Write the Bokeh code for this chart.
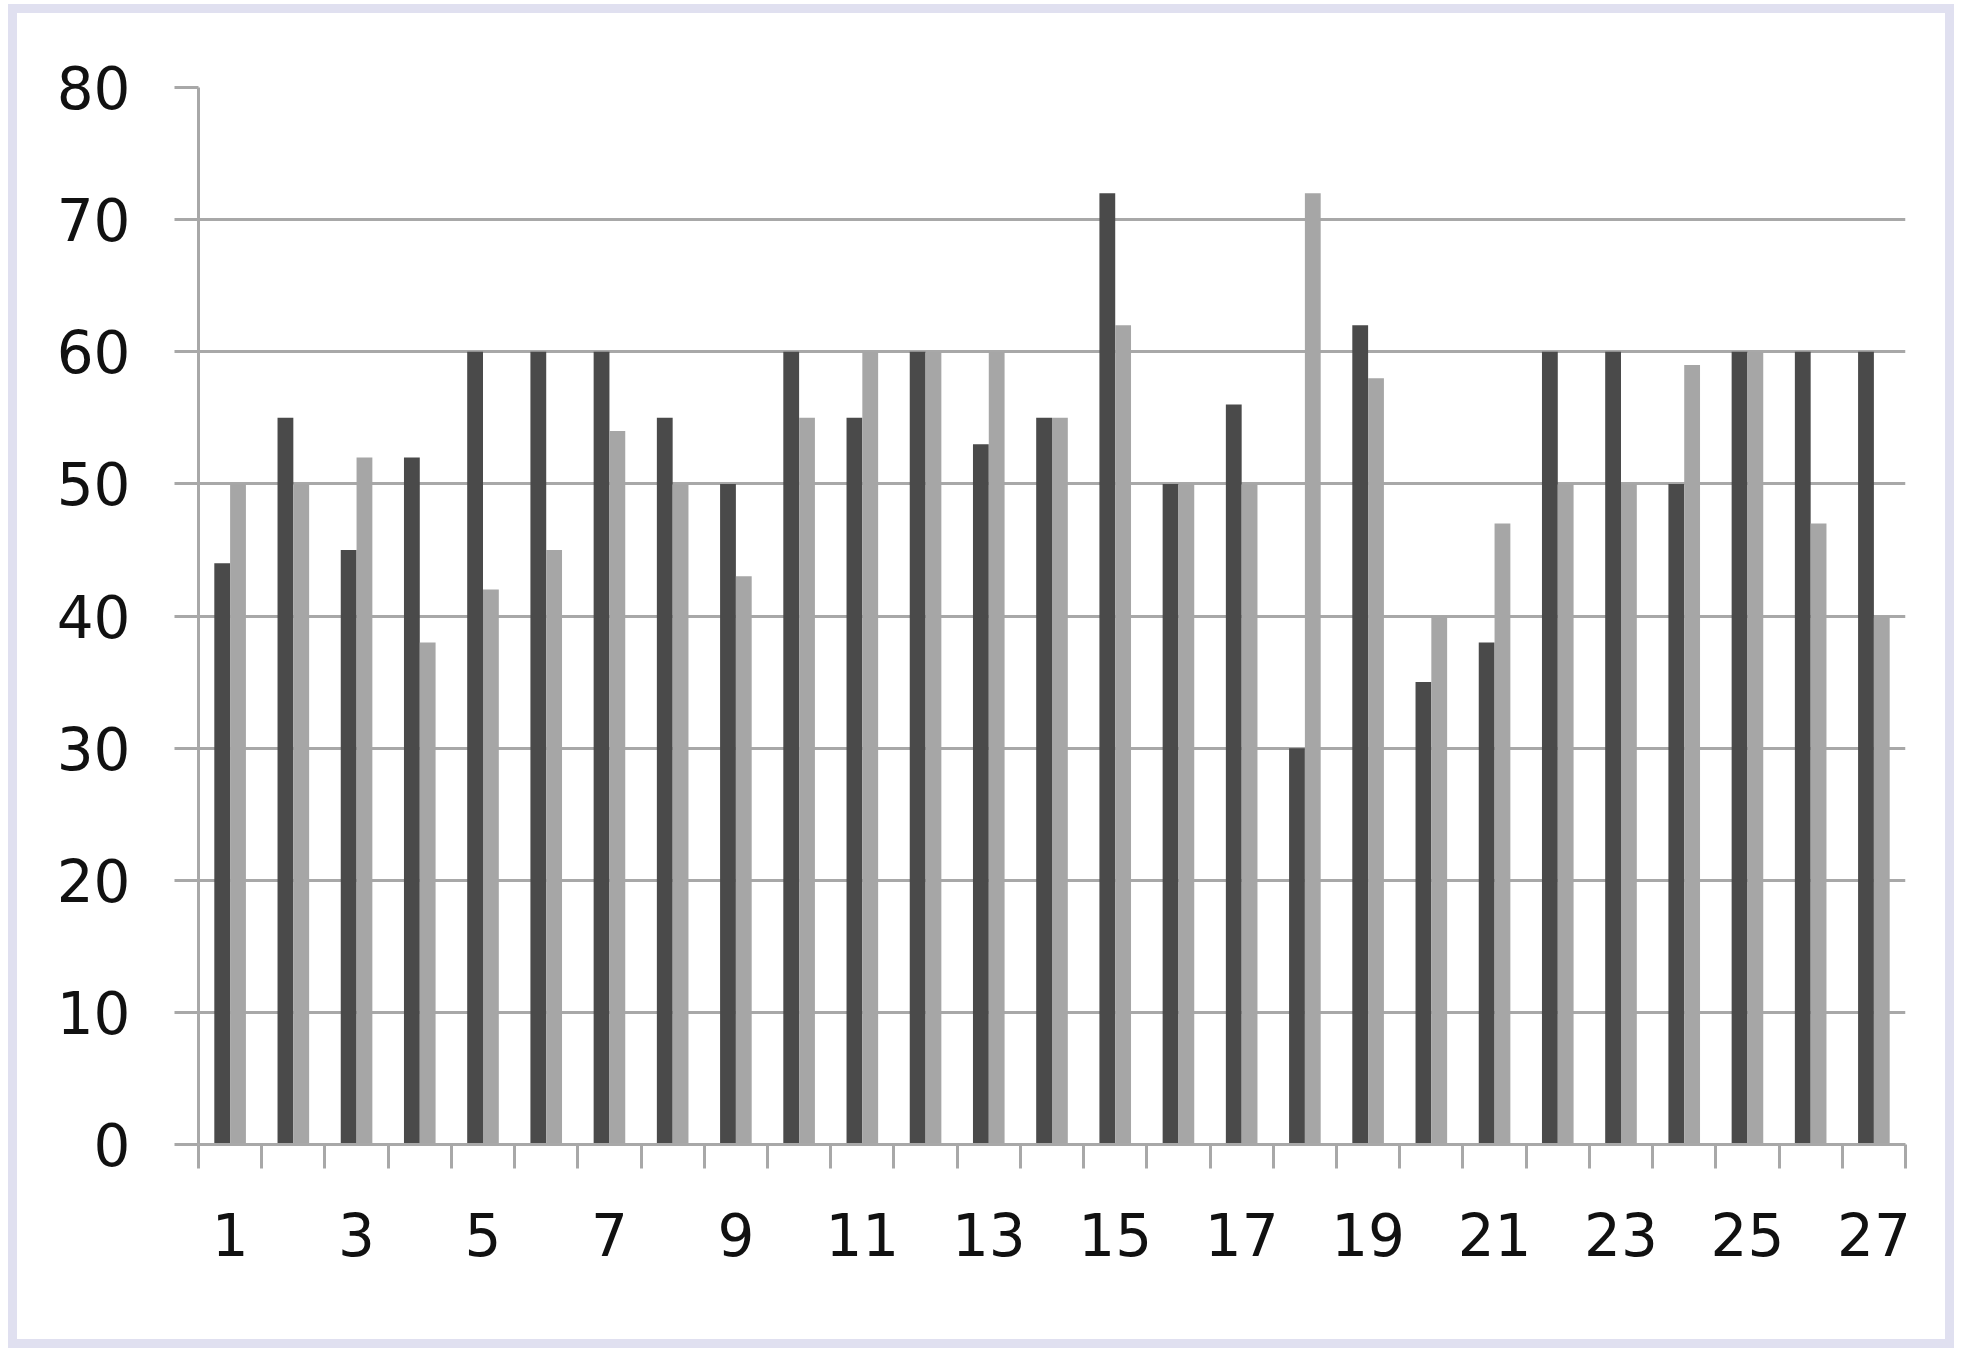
from bokeh.plotting import figure
from bokeh.models import Range1d, FixedTicker, ColumnDataSource
from bokeh.transform import dodge
from bokeh.embed import file_html
from bokeh.resources import INLINE

categories = list(range(1, 28))
series_dark = [44, 55, 45, 52, 60, 60, 60, 55, 50, 60, 55, 60, 53, 55, 72,
               50, 56, 30, 62, 35, 38, 60, 60, 50, 60, 60, 60]
series_light = [50, 50, 52, 38, 42, 45, 54, 50, 43, 55, 60, 60, 60, 55, 62,
                50, 50, 72, 58, 40, 47, 50, 50, 59, 60, 47, 40]
y_ticks = [0, 10, 20, 30, 40, 50, 60, 70, 80]
x_tick_labels = [1, 3, 5, 7, 9, 11, 13, 15, 17, 19, 21, 23, 25, 27]

src = ColumnDataSource(dict(x=categories, dark=series_dark, light=series_light))

GRID = "#a8a8a8"
FONT = "DejaVu Sans"

p = figure(width=1954, height=1348,
           x_range=Range1d(0.5, len(categories) + 0.5), y_range=Range1d(0, 80),
           output_backend="svg", toolbar_location=None,
           min_border_left=181, min_border_right=66,
           min_border_top=74, min_border_bottom=217,
           background_fill_color="white", border_fill_color=None,
           styles={"border-style": "solid",
                   "border-color": "white",
                   "border-width": "4px 0px 0px 8px",
                   "padding": "9px",
                   "background-color": "white",
                   "box-shadow": "inset 0 0 0 9px #e0e0f0"})

p.vbar(x=dodge("x", -0.125, range=p.x_range), top="dark", width=0.25,
       source=src, fill_color="#4a4a4a", line_color=None)
p.vbar(x=dodge("x", 0.125, range=p.x_range), top="light", width=0.25,
       source=src, fill_color="#a6a6a6", line_color=None)

p.outline_line_color = None
p.xgrid.visible = False
p.ygrid.grid_line_color = GRID
p.ygrid.grid_line_width = 3

# y axis
p.yaxis.ticker = FixedTicker(ticks=y_ticks)
p.yaxis.axis_line_color = GRID
p.yaxis.axis_line_width = 3
p.yaxis.major_tick_line_color = GRID
p.yaxis.major_tick_line_width = 3
p.yaxis.major_tick_out = 24
p.yaxis.major_tick_in = 0
p.yaxis.minor_tick_line_color = None
p.yaxis.major_label_standoff = 44
p.yaxis.major_label_text_font = FONT
p.yaxis.major_label_text_font_size = "58px"
p.yaxis.major_label_text_color = "#111111"

# x axis
boundaries = [c - 0.5 for c in categories] + [categories[-1] + 0.5]
p.xaxis.ticker = FixedTicker(ticks=x_tick_labels, minor_ticks=boundaries)
p.xaxis.axis_line_color = GRID
p.xaxis.axis_line_width = 3
p.xaxis.major_tick_line_color = None
p.xaxis.major_tick_out = 0
p.xaxis.major_tick_in = 0
p.xaxis.minor_tick_line_color = GRID
p.xaxis.minor_tick_line_width = 3
p.xaxis.minor_tick_out = 24
p.xaxis.minor_tick_in = 0
p.xaxis.major_label_standoff = 44
p.xaxis.major_label_text_font = FONT
p.xaxis.major_label_text_font_size = "58px"
p.xaxis.major_label_text_color = "#111111"

open("out.html", "w").write(file_html(p, INLINE))
